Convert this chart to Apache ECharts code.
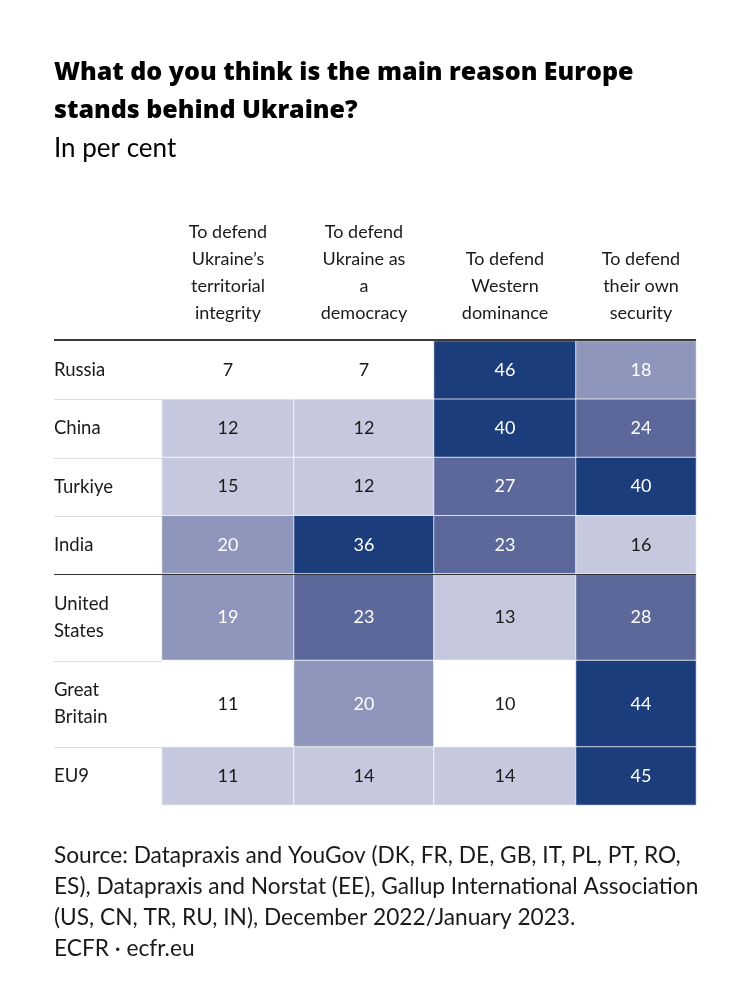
<!DOCTYPE html>
<html><head><meta charset="utf-8">
<script src="https://cdn.jsdelivr.net/npm/echarts@6/dist/echarts.min.js"></script>
<style>html,body{margin:0;padding:0;background:#fff}#c{width:750px;height:993px}</style>
</head><body><div id="c"></div>
<script>
// ---- data ----
const countries = ['Russia', 'China', 'Turkiye', 'India', 'United\nStates', 'Great\nBritain', 'EU9'];
const reasons = [
  'To defend\nUkraine’s\nterritorial\nintegrity',
  'To defend\nUkraine as\na\ndemocracy',
  'To defend\nWestern\ndominance',
  'To defend\ntheir own\nsecurity'
];
const territorial = [7, 12, 15, 20, 19, 10.6, 11];
const democracy   = [7, 12, 12, 36, 23, 20, 14];
const western     = [46, 40, 27, 23, 13, 10, 14];
const security    = [18, 24, 40, 16, 28, 44, 45];
const titleText = 'What do you think is the main reason Europe\nstands behind Ukraine?';
const subtitleText = 'In per cent';
const sourceText = 'Source: Datapraxis and YouGov (DK, FR, DE, GB, IT, PL, PT, RO,\nES), Datapraxis and Norstat (EE), Gallup International Association\n(US, CN, TR, RU, IN), December 2022/January 2023.\nECFR · ecfr.eu';

// ---- layout ----
const FONT = 'Lato';
const LEFT = 54;
const colEdges = [162, 294, 434, 576, 696];
const colShift = [0, 0, 0, 5];
const groups = [
  { from: 0, to: 4, top: 341, bottom: 574 },
  { from: 4, to: 6, top: 574, bottom: 747 },
  { from: 6, to: 7, top: 747, bottom: 805 }
];
const TXT = '#1a1a1a';

const columns = [territorial, democracy, western, security];
const grids = [], xAxes = [], yAxes = [], series = [];
groups.forEach((g, gi) => {
  columns.forEach((vals, ci) => {
    const idx = grids.length;
    grids.push({ left: colEdges[ci], width: colEdges[ci + 1] - colEdges[ci], top: g.top, height: g.bottom - g.top });
    xAxes.push({
      type: 'category', gridIndex: idx, data: [reasons[ci]], position: 'top',
      axisLine: { show: false }, axisTick: { show: false }, splitLine: { show: false },
      axisLabel: { show: gi === 0, interval: 0, margin: 14, fontFamily: FONT, fontSize: 18, color: TXT, lineHeight: 27, align: 'center',
                   padding: [0, 0, 0, colShift[ci] * 2] }
    });
    yAxes.push({
      type: 'category', gridIndex: idx, inverse: true, data: countries.slice(g.from, g.to),
      axisLine: { show: false }, axisTick: { show: false }, splitLine: { show: false },
      axisLabel: { show: ci === 0, interval: 0, align: 'left', margin: colEdges[0] - LEFT, fontFamily: FONT, fontSize: 18.5, color: TXT, lineHeight: 27 }
    });
    series.push({
      type: 'heatmap', xAxisIndex: idx, yAxisIndex: idx,
      data: vals.slice(g.from, g.to).map((v, i) => [0, i, v]),
      itemStyle: { borderColor: 'rgba(255,255,255,0.75)', borderWidth: 1 },
      emphasis: { disabled: true },
      label: {
        show: true,
        offset: [colShift[ci], 0],
        formatter: p => (p.value[2] >= 17 ? '{w|' : '{d|') + Math.round(p.value[2]) + '}',
        rich: {
          w: { color: '#ffffff', fontFamily: FONT, fontSize: 18 },
          d: { color: TXT, fontFamily: FONT, fontSize: 18 }
        }
      }
    });
  });
});

const hline = (y, x1, x2, w, c) => ({ type: 'line', shape: { x1, y1: y, x2, y2: y }, style: { stroke: c, lineWidth: w }, z: 100 });
const graphics = [
  hline(340, LEFT, colEdges[4], 2, '#3a3a3a'),
  hline(574.5, LEFT, colEdges[4], 1, '#333333')
];
[399.5, 458.5, 516.5, 661.5, 747.5].forEach(y => graphics.push(hline(y, LEFT, colEdges[0], 1, '#dddddd')));

const chart = echarts.init(document.getElementById('c'), null, { renderer: 'canvas' });
chart.setOption({
  backgroundColor: '#ffffff',
  animation: false,
  title: [
    { text: titleText, left: LEFT, top: 54, padding: 0, textStyle: { fontFamily: 'Open Sans', fontSize: 25, fontWeight: 800, lineHeight: 38, color: '#000' } },
    { text: subtitleText, left: LEFT, top: 134, padding: 0, textStyle: { fontFamily: FONT, fontSize: 26, fontWeight: 'normal', lineHeight: 30, color: '#000' } },
    { text: sourceText, left: LEFT, top: 840, padding: 0, textStyle: { fontFamily: FONT, fontSize: 22.7, fontWeight: 'normal', lineHeight: 31, color: TXT } }
  ],
  grid: grids,
  xAxis: xAxes,
  yAxis: yAxes,
  visualMap: {
    type: 'piecewise', show: false, dimension: 2,
    seriesIndex: series.map((s, i) => i),
    pieces: [
      { lt: 11, color: '#ffffff' },
      { gte: 11, lt: 17, color: '#c6c9dd' },
      { gte: 17, lt: 22, color: '#8f96bb' },
      { gte: 22, lt: 33, color: '#5b6899' },
      { gte: 33, color: '#1b3d7b' }
    ]
  },
  graphic: graphics,
  series: series
});
</script>
</body></html>
